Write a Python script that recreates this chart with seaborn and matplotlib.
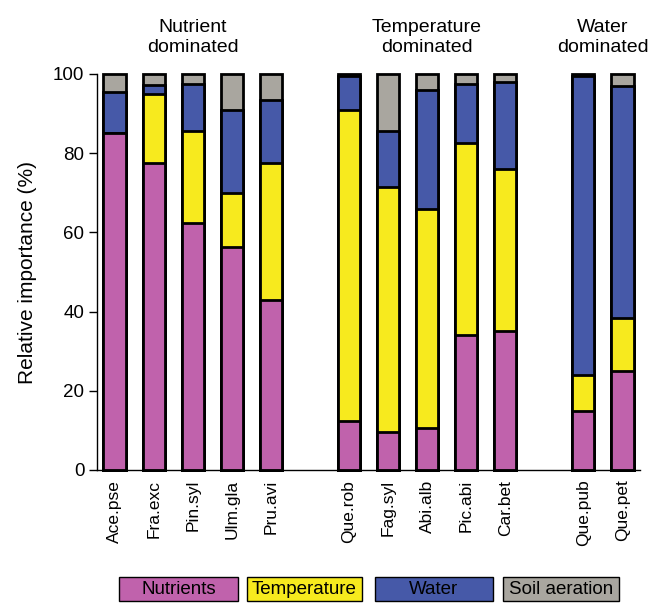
import matplotlib
matplotlib.use('Agg')
import matplotlib.pyplot as plt
from matplotlib.patches import Rectangle
from matplotlib.transforms import blended_transform_factory
import seaborn as sns
import numpy as np

sns.set_style('ticks')
plt.rcParams['font.family'] = ['Liberation Sans', 'DejaVu Sans']
plt.rcParams['font.size'] = 13
plt.rcParams['text.color'] = 'black'
plt.rcParams['axes.labelcolor'] = 'black'
plt.rcParams['xtick.color'] = 'black'
plt.rcParams['ytick.color'] = 'black'
plt.rcParams['axes.edgecolor'] = 'black'

species = ['Ace.pse', 'Fra.exc', 'Pin.syl', 'Ulm.gla', 'Pru.avi',
           'Que.rob', 'Fag.syl', 'Abi.alb', 'Pic.abi', 'Car.bet',
           'Que.pub', 'Que.pet']
groups = ['Nutrient\ndominated'] * 5 + ['Temperature\ndominated'] * 5 + ['Water\ndominated'] * 2
nutrients = [85, 77.5, 62.5, 56.3, 43, 12.5, 9.5, 10.5, 34, 35, 15, 25]
temperature = [0, 17.5, 23, 13.7, 34.5, 78.5, 62, 55.5, 48.5, 41, 9, 13.5]
water = [10.5, 2.3, 12, 21, 16, 8.5, 14, 30, 15, 22, 75.5, 58.5]
soil_aeration = [4.5, 2.7, 2.5, 9, 6.5, 0.5, 14.5, 4, 2.5, 2, 0.5, 3]

factors = ['Nutrients', 'Temperature', 'Water', 'Soil aeration']
colors = ['#C062AC', '#F7EA1E', '#4659A8', '#A9A69F']

# bar positions: one empty slot of gap between groups
pos = []
x = 0
for i, g in enumerate(groups):
    if i > 0 and g != groups[i - 1]:
        x += 1
    pos.append(x)
    x += 1
pos = np.array(pos, dtype=float)

layers = np.array([nutrients, temperature, water, soil_aeration])
cum = np.cumsum(layers, axis=0)

fig = plt.figure(figsize=(6.6, 6.03), dpi=100)
ax = fig.add_axes([97 / 660, 1 - 470 / 603, 543 / 660, 396 / 603])

# draw from the top layer down so each stack overlaps the previous
for k in range(3, -1, -1):
    sns.barplot(x=pos, y=cum[k], native_scale=True, orient='x', width=0.57,
                color=colors[k], saturation=1, edgecolor='black', linewidth=2,
                errorbar=None, ax=ax)
for p in ax.patches:
    p.set_clip_on(False)

ax.set_xlim(-0.45, 13.45)
ax.set_ylim(0, 100)
ax.set_yticks([0, 20, 40, 60, 80, 100])
ax.set_xticks(pos)
ax.set_xticklabels(species, rotation=90)
ax.tick_params(axis='x', length=0, pad=7, labelsize=12.5)
ax.tick_params(axis='y', length=6, width=1, pad=3, labelsize=13.5)
ax.set_ylabel('Relative importance (%)', fontsize=15)
ax.yaxis.set_label_coords(-0.111, 0.5)
sns.despine(ax=ax)
for s in ['left', 'bottom']:
    ax.spines[s].set_linewidth(1)

trans = blended_transform_factory(ax.transData, ax.transAxes)
for g in dict.fromkeys(groups):
    xs = pos[[i for i, gg in enumerate(groups) if gg == g]]
    ax.text(xs.mean(), 1.045, g, transform=trans, ha='center', va='bottom',
            fontsize=14, linespacing=1.25)

# legend boxes with labels inside
boxes = [(119, 238), (247, 362), (375, 493), (503, 619)]
for (x0, x1), lab, c in zip(boxes, factors, colors):
    fig.patches.append(Rectangle((x0 / 660, 1 - 601 / 603), (x1 - x0) / 660, 24 / 603,
                                 transform=fig.transFigure, facecolor=c,
                                 edgecolor='black', linewidth=1))
    fig.text((x0 + x1) / 2 / 660, 1 - 589 / 603, lab, ha='center', va='center',
             fontsize=13.5)

fig.savefig('out.png', dpi=100)
